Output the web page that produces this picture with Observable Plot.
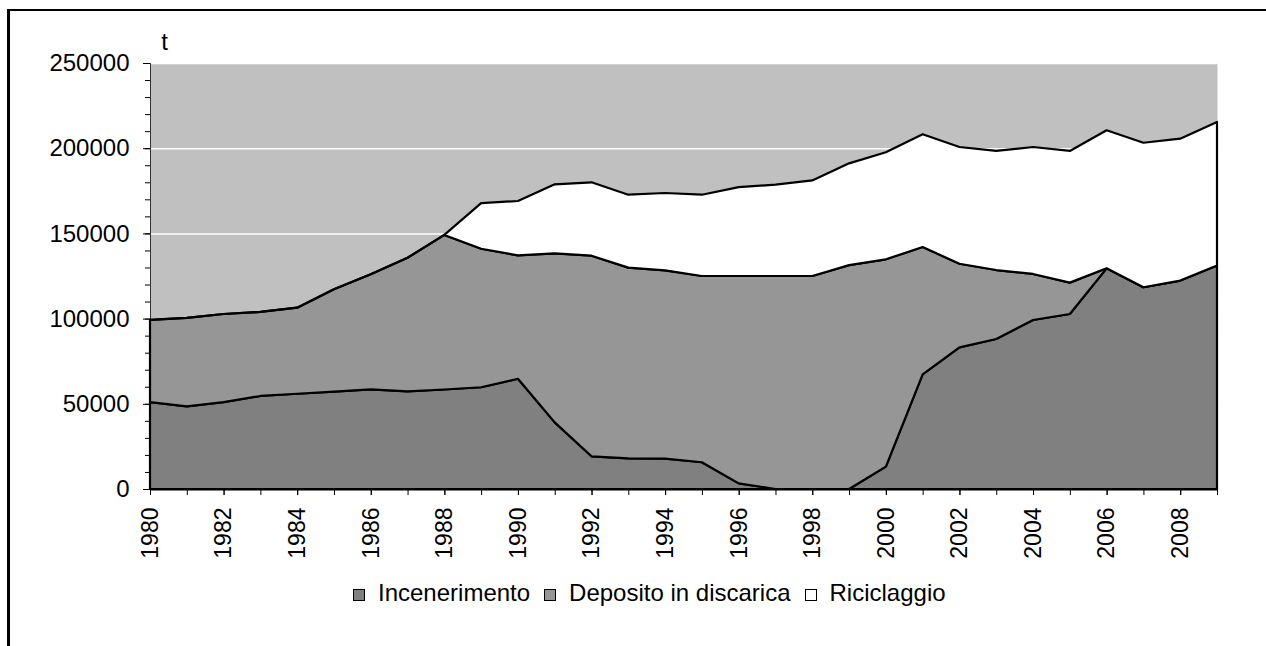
<!DOCTYPE html>
<html>
<head>
<meta charset="utf-8">
<script src="https://cdn.jsdelivr.net/npm/d3@7"></script>
<script src="https://cdn.jsdelivr.net/npm/@observablehq/plot@0.6"></script>
<style>
html, body { margin: 0; padding: 0; background: #fff; overflow: hidden; width: 1266px; height: 646px; }
body { position: relative; font-family: Arial, "Liberation Sans", sans-serif; }
#chart { position: absolute; left: 0; top: 0; }
#frame { position: absolute; left: 7px; top: 9px; width: 1400px; height: 800px; border-style: solid; border-color: #000; border-width: 2px 0 0 3px; box-sizing: border-box; pointer-events: none; }
#legend { position: absolute; left: 353px; top: 579px; font-size: 24px; line-height: normal; color: #000; white-space: nowrap; }
.sw { display: inline-block; width: 10px; height: 10px; border: 1.5px solid #000; margin-right: 13px; vertical-align: baseline; }
.lab { margin-right: 14px; }
</style>
</head>
<body>
<div id="chart"></div>
<div id="legend"></div>
<div id="frame"></div>
<script>
const years = [1980,1981,1982,1983,1984,1985,1986,1987,1988,1989,1990,1991,1992,1993,1994,1995,1996,1997,1998,1999,2000,2001,2002,2003,2004,2005,2006,2007,2008,2009];
const incenerimento = [51000,48500,51000,54600,55900,57100,58500,57300,58400,59700,64700,39100,19200,18000,17800,15700,3300,0,0,0,13100,67300,83100,88000,99200,102700,129500,118400,122300,131100];
const deposito = [48200,51900,51700,49300,50500,60100,67500,78400,90700,81300,72400,99200,117700,111900,110500,109300,121700,125000,125000,131400,121700,74700,49100,40500,27000,18400,0,0,0,0];
const riciclaggio = [0,0,0,0,0,0,0,0,0,26800,31900,40500,43100,42800,45400,47700,52200,53600,56100,59700,62800,66200,68500,69900,74500,77300,81000,84800,83300,84300];
const seriesNames = ["Incenerimento", "Deposito in discarica", "Riciclaggio"];
const seriesColors = ["#808080", "#969696", "#ffffff"];
const yMajorTicks = [0, 50000, 100000, 150000, 200000, 250000];
const yMinorTicks = [0,10000,20000,30000,40000,50000,60000,70000,80000,90000,100000,110000,120000,130000,140000,150000,160000,170000,180000,190000,200000,210000,220000,230000,240000,250000];
const xLabelYears = [1980,1982,1984,1986,1988,1990,1992,1994,1996,1998,2000,2002,2004,2006,2008];
const unitLabel = "t";

const seriesValues = [incenerimento, deposito, riciclaggio];
const data = [];
seriesNames.forEach((name, s) => {
  years.forEach((yr, i) => data.push({year: yr, series: name, value: seriesValues[s][i]}));
});

const font = "Arial, 'Liberation Sans', sans-serif";
const blank = () => "";

const chart = Plot.plot({
  width: 1266,
  height: 566,
  marginLeft: 150,
  marginRight: 49,
  marginTop: 63,
  marginBottom: 77,
  style: {fontFamily: font, fontSize: "24px", color: "#000", background: "transparent"},
  x: {type: "linear", domain: [1980, 2009]},
  y: {domain: [0, 250000]},
  color: {domain: seriesNames, range: seriesColors},
  marks: [
    Plot.frame({fill: "#c0c0c0", stroke: null}),
    Plot.ruleY(yMajorTicks.filter(d => d > 0), {stroke: "#ffffff", strokeWidth: 1.5}),
    Plot.ruleX([1980], {y1: 0, y2: 250000, stroke: "#333", strokeWidth: 1}),
    Plot.areaY(data, {x: "year", y: "value", z: "series", fill: "series", order: seriesNames, stroke: "#000", strokeWidth: 2.2, strokeLinejoin: "round"}),
    Plot.ruleY([0], {stroke: "#000", strokeWidth: 2.2}),
    Plot.axisY(yMinorTicks, {anchor: "left", tickSize: 5, tickFormat: blank, label: null}),
    Plot.axisY(yMajorTicks, {anchor: "left", tickSize: 7, tickPadding: 14, tickFormat: d => String(d), label: null, fontSize: 24, fontFamily: font}),
    Plot.axisX(years, {anchor: "bottom", tickSize: 6, tickFormat: blank, label: null}),
    Plot.axisX(xLabelYears, {anchor: "bottom", tickSize: 6, tickPadding: 12, tickRotate: -90, tickFormat: d => String(d), label: null, fontSize: 23, fontFamily: font}),
    Plot.text([{x: 1980, y: 250000, t: unitLabel}], {x: "x", y: "y", text: "t", dx: 14, dy: -21, textAnchor: "middle", fontSize: 24, fontFamily: font, fill: "#000"})
  ]
});
document.getElementById("chart").appendChild(chart);

const legend = document.getElementById("legend");
seriesNames.forEach((name, i) => {
  const sw = document.createElement("span");
  sw.className = "sw";
  sw.style.background = seriesColors[i];
  const label = document.createElement("span");
  label.className = "lab";
  label.textContent = name;
  legend.appendChild(sw);
  legend.appendChild(label);
});
</script>
</body>
</html>
